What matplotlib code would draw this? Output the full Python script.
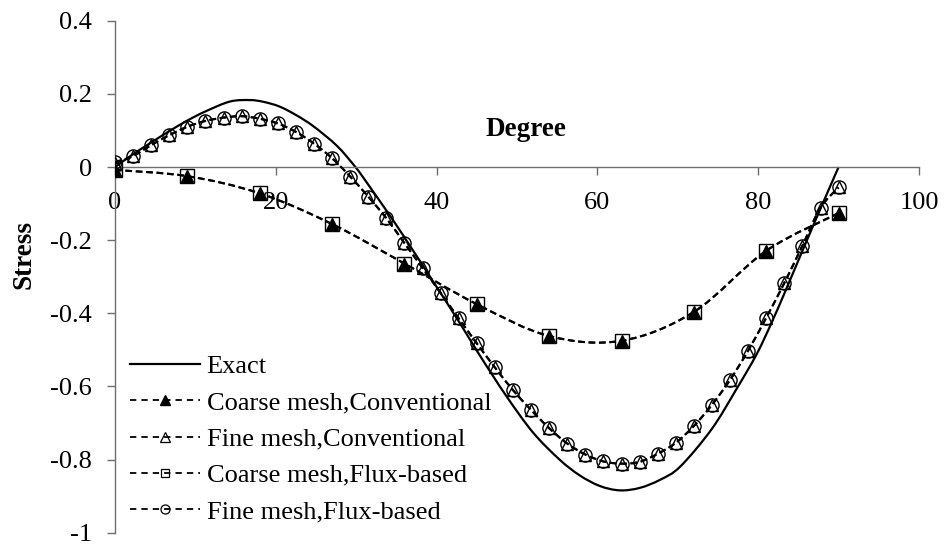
import numpy as np
import matplotlib
matplotlib.use("Agg")
import matplotlib.pyplot as plt
from matplotlib.path import Path
from matplotlib.patches import PathPatch
from matplotlib.lines import Line2D

plt.rcParams['font.family'] = ['Liberation Serif', 'DejaVu Serif']

# exact solution
exact_deg = [0, 2.25, 4.5, 6.75, 9, 11.25, 14.3, 16.8, 18.5, 20.5, 22.6, 24.7, 27.6, 29.9,
             31.3, 34.6, 37, 39.6, 42.9, 45.4, 48.7, 52, 55.3, 57.8, 60.3, 62.8, 65.3,
             67.8, 70.3, 74.2, 77.3, 79.8, 81.7, 83.5, 85.6, 87.8, 90]
exact_stress = [0, 0.035, 0.067, 0.098, 0.127, 0.152, 0.179, 0.183, 0.178, 0.165, 0.141,
                0.111, 0.058, 0.0, -0.042, -0.146, -0.226, -0.314, -0.427, -0.516, -0.627,
                -0.726, -0.800, -0.843, -0.872, -0.884, -0.877, -0.855, -0.819, -0.717,
                -0.607, -0.512, -0.424, -0.333, -0.224, -0.111, 0.0]

# coarse mesh (every 9 degrees)
coarse_deg = [0, 9, 18, 27, 36, 45, 54, 63, 72, 81, 90]
coarse_conv = [-0.008, -0.025, -0.072, -0.156, -0.264, -0.375, -0.462, -0.475, -0.396, -0.229, -0.126]
coarse_flux = [-0.008, -0.025, -0.072, -0.156, -0.264, -0.375, -0.462, -0.475, -0.396, -0.229, -0.126]

# fine mesh (every 2.25 degrees)
fine_deg = [0, 2.25, 4.5, 6.75, 9, 11.25, 13.5, 15.75, 18, 20.25, 22.5, 24.75, 27, 29.25,
            31.5, 33.75, 36, 38.25, 40.5, 42.75, 45, 47.25, 49.5, 51.75, 54, 56.25, 58.5,
            60.75, 63, 65.25, 67.5, 69.75, 72, 74.25, 76.5, 78.75, 81, 83.25, 85.5, 87.75, 90]
fine_conv = [0.010, 0.030, 0.060, 0.087, 0.110, 0.126, 0.135, 0.139, 0.132, 0.119, 0.096,
             0.064, 0.024, -0.026, -0.081, -0.140, -0.208, -0.276, -0.344, -0.414, -0.482,
             -0.548, -0.610, -0.664, -0.714, -0.756, -0.786, -0.805, -0.811, -0.806, -0.784,
             -0.754, -0.708, -0.650, -0.582, -0.502, -0.412, -0.317, -0.215, -0.111, -0.056]
fine_flux = [0.014, 0.030, 0.060, 0.087, 0.110, 0.126, 0.135, 0.139, 0.132, 0.119, 0.096,
             0.064, 0.024, -0.026, -0.081, -0.140, -0.208, -0.276, -0.344, -0.414, -0.482,
             -0.548, -0.610, -0.664, -0.714, -0.756, -0.786, -0.805, -0.811, -0.806, -0.784,
             -0.754, -0.708, -0.650, -0.582, -0.502, -0.412, -0.317, -0.215, -0.111, -0.056]

labels = ['Exact', 'Coarse mesh,Conventional', 'Fine mesh,Conventional',
          'Coarse mesh,Flux-based', 'Fine mesh,Flux-based']

AXIS_GREY = '#6e6e6e'
FS = 19


def smooth_path(x, y):
    # Excel-like smoothed line: cubic bezier through the data points
    x = np.asarray(x, float)
    y = np.asarray(y, float)
    n = len(x)
    verts = [(x[0], y[0])]
    codes = [Path.MOVETO]
    for i in range(n - 1):
        i0 = max(i - 1, 0)
        i3 = min(i + 2, n - 1)
        c1 = (x[i] + (x[i + 1] - x[i0]) / 6, y[i] + (y[i + 1] - y[i0]) / 6)
        c2 = (x[i + 1] - (x[i3] - x[i]) / 6, y[i + 1] - (y[i3] - y[i]) / 6)
        verts += [c1, c2, (x[i + 1], y[i + 1])]
        codes += [Path.CURVE4] * 3
    return Path(verts, codes)


fig = plt.figure(figsize=(9.46, 5.52), dpi=100)
ax = fig.add_axes([115 / 946, 19.2 / 552, 804 / 946, 512.1 / 552])

dash = (0, (3.2, 1.8))

ax.add_patch(PathPatch(smooth_path(exact_deg, exact_stress), fill=False, color='black', lw=1.6, zorder=2))

ax.add_patch(PathPatch(smooth_path(coarse_deg, coarse_conv), fill=False, color='black', lw=1.5,
                       linestyle=dash, zorder=3))
ax.plot(coarse_deg, coarse_conv, ls='none', marker='^', ms=8, mfc='black', mec='black', mew=1, zorder=4)

ax.add_patch(PathPatch(smooth_path(fine_deg, fine_conv), fill=False, color='black', lw=1.5,
                       linestyle=dash, zorder=5))
ax.plot(fine_deg, fine_conv, ls='none', marker='^', ms=9, mfc='none', mec='black', mew=1, zorder=6)

ax.add_patch(PathPatch(smooth_path(coarse_deg, coarse_flux), fill=False, color='black', lw=1.5,
                       linestyle=dash, zorder=7))
ax.plot(coarse_deg, coarse_flux, ls='none', marker='s', ms=10.5, mfc='none', mec='black', mew=1, zorder=8)

ax.add_patch(PathPatch(smooth_path(fine_deg, fine_flux), fill=False, color='black', lw=1.5,
                       linestyle=dash, zorder=9))
ax.plot(fine_deg, fine_flux, ls='none', marker='o', ms=9.5, mfc='none', mec='black', mew=1, zorder=10)

ax.set_xlim(0, 100)
ax.set_ylim(-1, 0.4)
ax.set_xticks([0, 20, 40, 60, 80, 100])
ax.set_yticks([-1, -0.8, -0.6, -0.4, -0.2, 0, 0.2, 0.4])
ax.set_yticklabels(['-1', '-0.8', '-0.6', '-0.4', '-0.2', '0', '0.2', '0.4'])

ax.spines['top'].set_visible(False)
ax.spines['right'].set_visible(False)
ax.spines['bottom'].set_position(('data', 0))
for side in ('left', 'bottom'):
    ax.spines[side].set_color(AXIS_GREY)
    ax.spines[side].set_linewidth(1.0)
ax.tick_params(axis='both', direction='out', length=5.5, width=1.0, color=AXIS_GREY,
               labelsize=FS, labelcolor='black', pad=11)
ax.tick_params(axis='x', pad=12.5)

ax.set_xlabel('Degree', fontsize=19.5, fontweight='bold', va='center', ha='center')
ax.xaxis.set_label_coords(0.511, 0.7885)
ax.set_ylabel('Stress', fontsize=19.5, fontweight='bold', va='center', ha='center')
ax.yaxis.set_label_coords(-0.113, 0.5425)

leg_dash = (0, (3.5, 2.8))
handles = [
    Line2D([], [], color='black', lw=1.6),
    Line2D([], [], color='black', lw=1.3, ls=leg_dash, marker='^', ms=6.5, mfc='black', mec='black'),
    Line2D([], [], color='black', lw=1.3, ls=leg_dash, marker='^', ms=6.5, mfc='none', mec='black', mew=0.9),
    Line2D([], [], color='black', lw=1.3, ls=leg_dash, marker='s', ms=5.5, mfc='none', mec='black', mew=0.9),
    Line2D([], [], color='black', lw=1.3, ls=leg_dash, marker='o', ms=6.5, mfc='none', mec='black', mew=0.9),
]
ax.legend(handles, labels, loc='upper left', bbox_to_anchor=(130 / 946, 1 - 355 / 552),
          bbox_transform=fig.transFigure, frameon=False, fontsize=FS, borderpad=0,
          borderaxespad=0, handlelength=2.65, handletextpad=0.25, labelspacing=0.48,
          numpoints=1)

fig.savefig('out.png', dpi=100)
